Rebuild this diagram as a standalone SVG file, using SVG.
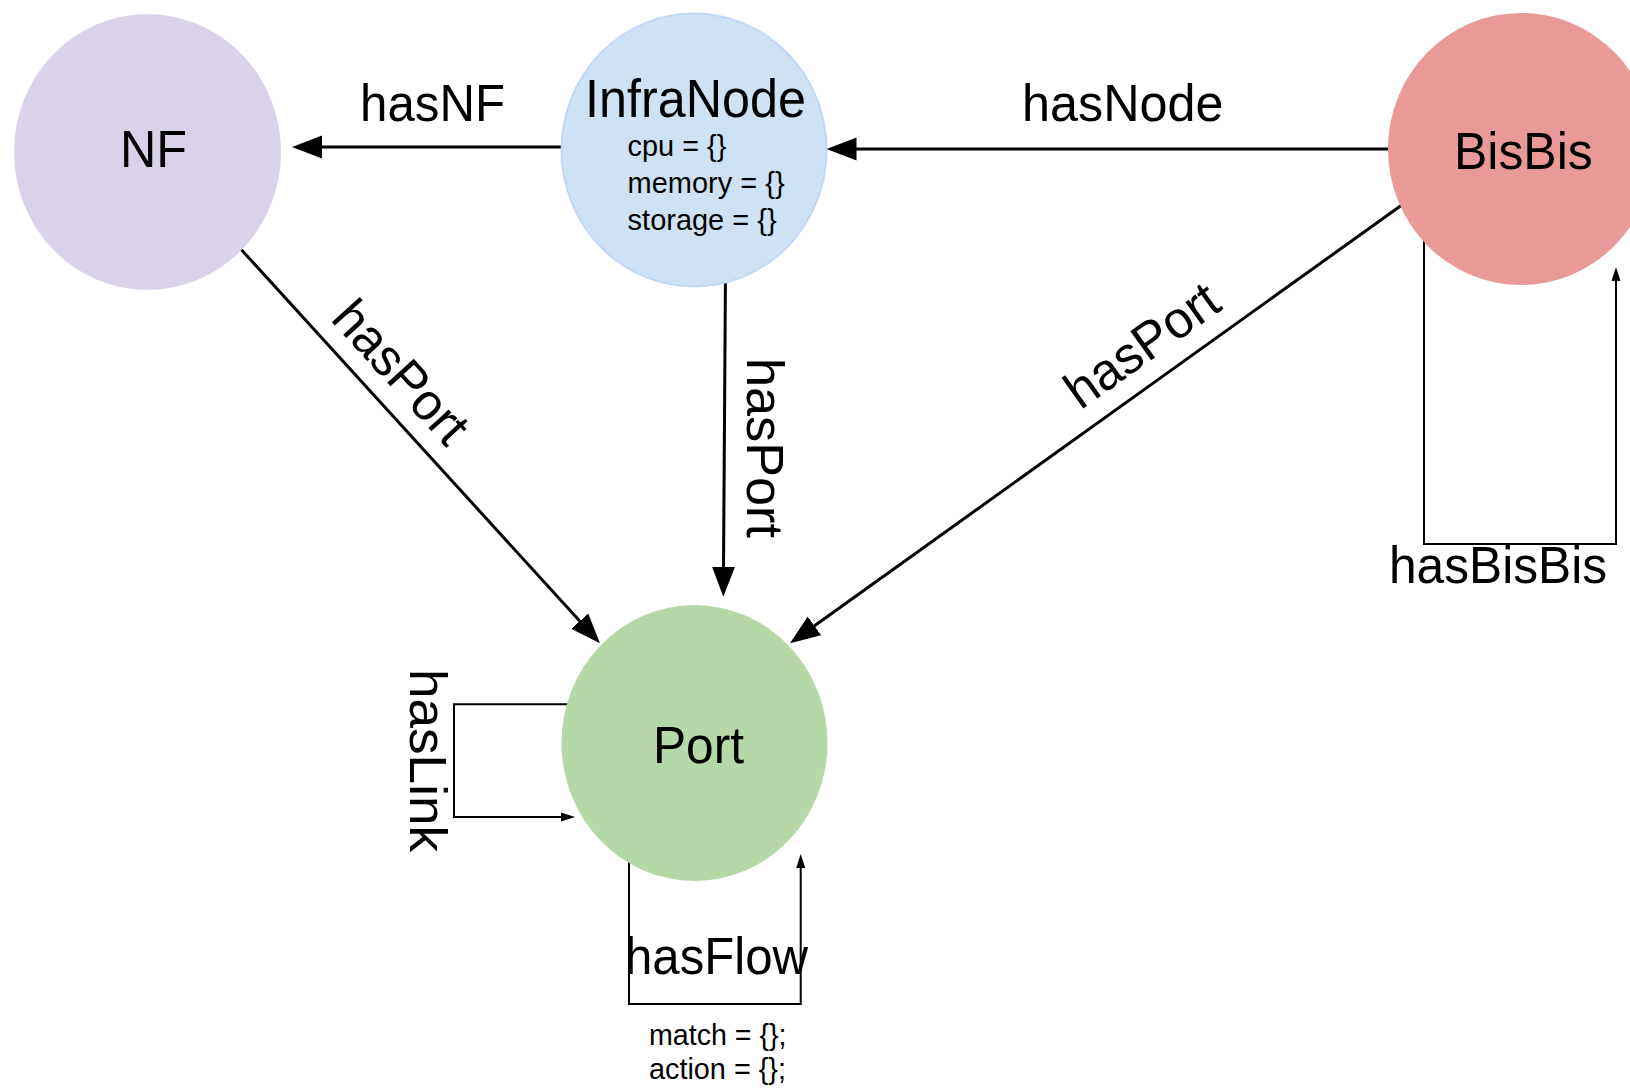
<svg xmlns="http://www.w3.org/2000/svg" width="1630" height="1089" viewBox="0 0 1630 1089">
  <style>
    text { font-family: "Liberation Sans", Arial, sans-serif; fill: #000; }
    .big { font-size: 52px; }
    .small { font-size: 29px; }
    .edge { fill: none; stroke: #000; stroke-width: 3; }
    .loop { fill: none; stroke: #000; stroke-width: 2; }
  </style>
  <defs>
    <marker id="arrow" markerUnits="userSpaceOnUse" viewBox="0 -12 31 24" refX="2" refY="0" markerWidth="31" markerHeight="24" orient="auto">
      <path d="M0,-11.5 L30,0 L0,11.5 Z" fill="#000"/>
    </marker>
    <marker id="arrow-small" markerUnits="userSpaceOnUse" viewBox="0 -5 15 10" refX="1" refY="0" markerWidth="15" markerHeight="10" orient="auto">
      <path d="M0,-4.5 L14,0 L0,4.5 Z" fill="#000"/>
    </marker>
  </defs>
  <rect width="1630" height="1089" fill="#ffffff"/>

  <!-- connectors (drawn first so node fills cover their ends) -->
  <g id="connectors">
    <!-- InfraNode -> NF -->
    <line class="edge" x1="575" y1="147" x2="320" y2="147" marker-end="url(#arrow)"/>
    <text class="big" x="360" y="120.7" textLength="145" lengthAdjust="spacingAndGlyphs">hasNF</text>

    <!-- BisBis -> InfraNode -->
    <line class="edge" x1="1400" y1="149" x2="854.5" y2="149" marker-end="url(#arrow)"/>
    <text class="big" x="1022" y="120.7" textLength="201.5" lengthAdjust="spacingAndGlyphs">hasNode</text>

    <!-- NF -> Port -->
    <line class="edge" x1="233" y1="240.5" x2="581.1" y2="622.6" marker-end="url(#arrow)"/>
    <text class="big" transform="translate(329.5,319.7) rotate(47.6)" textLength="174" lengthAdjust="spacingAndGlyphs">hasPort</text>

    <!-- InfraNode -> Port -->
    <line class="edge" x1="725.5" y1="270" x2="723.5" y2="568.7" marker-end="url(#arrow)"/>
    <text class="big" transform="translate(747,358) rotate(90)" textLength="180" lengthAdjust="spacingAndGlyphs">hasPort</text>

    <!-- BisBis -> Port -->
    <line class="edge" x1="1406" y1="202" x2="812.8" y2="627" marker-end="url(#arrow)"/>
    <text class="big" transform="translate(1080.6,410.6) rotate(-35.5)" textLength="176" lengthAdjust="spacingAndGlyphs">hasPort</text>

    <!-- BisBis self loop -->
    <path class="loop" d="M1424,230 V544 H1616 V280" marker-end="url(#arrow-small)"/>
    <text class="big" x="1389" y="583" textLength="218" lengthAdjust="spacingAndGlyphs">hasBisBis</text>

    <!-- Port self loop: hasLink -->
    <path class="loop" d="M600,704.3 H454 V817 H562" marker-end="url(#arrow-small)"/>
    <text class="big" transform="translate(409.5,669) rotate(90)" textLength="183" lengthAdjust="spacingAndGlyphs">hasLink</text>

    <!-- Port self loop: hasFlow -->
    <path class="loop" d="M629,850 V1004 H800.7 V867" marker-end="url(#arrow-small)"/>
    <text class="big" x="625" y="974" textLength="183" lengthAdjust="spacingAndGlyphs">hasFlow</text>
    <text class="small" x="649" y="1045" textLength="137.5" lengthAdjust="spacingAndGlyphs">match = {};</text>
    <text class="small" x="649" y="1079" textLength="137" lengthAdjust="spacingAndGlyphs">action = {};</text>
  </g>

  <g id="node-nf">
    <ellipse cx="147.5" cy="152" rx="133.5" ry="138" fill="#d9d2e9"/>
    <text class="big" x="120" y="167" textLength="67" lengthAdjust="spacingAndGlyphs">NF</text>
  </g>

  <g id="node-infranode">
    <ellipse cx="694" cy="150" rx="132.5" ry="136.5" fill="#cfe2f3" stroke="#c2d6f5" stroke-width="2"/>
    <text x="585" y="117" font-size="53" textLength="221" lengthAdjust="spacingAndGlyphs">InfraNode</text>
    <text class="small" x="627.6" y="156" textLength="98.7" lengthAdjust="spacingAndGlyphs">cpu = {}</text>
    <text class="small" x="627.6" y="193" textLength="157" lengthAdjust="spacingAndGlyphs">memory = {}</text>
    <text class="small" x="627.6" y="230" textLength="149" lengthAdjust="spacingAndGlyphs">storage = {}</text>
  </g>

  <g id="node-bisbis">
    <ellipse cx="1521" cy="149" rx="133" ry="136" fill="#ea9999"/>
    <text class="big" x="1454" y="169" textLength="138.7" lengthAdjust="spacingAndGlyphs">BisBis</text>
  </g>

  <g id="node-port">
    <ellipse cx="694.5" cy="743" rx="133" ry="138" fill="#b6d7a8"/>
    <text class="big" x="653" y="762.7" textLength="91" lengthAdjust="spacingAndGlyphs">Port</text>
  </g>
</svg>
